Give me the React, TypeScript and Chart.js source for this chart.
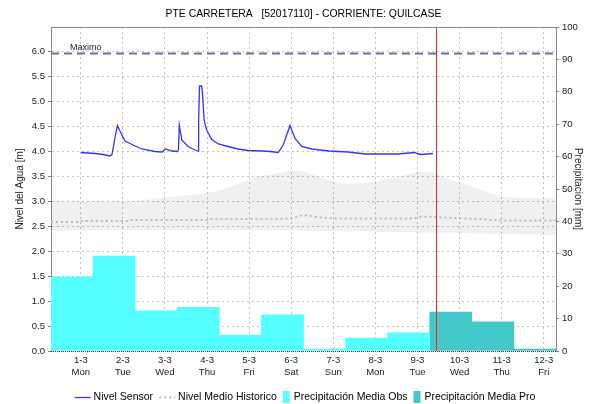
import React, { useEffect, useRef } from "react";
import { Chart, registerables } from "chart.js";

Chart.register(...registerables);

const FONT = '"Liberation Sans", Arial, sans-serif';

const TITLE = "PTE CARRETERA   [52017110] - CORRIENTE: QUILCASE";
const LEFT_TITLE = "Nivel del Agua [m]";
const RIGHT_TITLE = "Precipitacion [mm]";
const MAXIMO_LABEL = "Maximo";

// x axis: days counted from 1-3 00:00
const dateLabels = ["1-3", "2-3", "3-3", "4-3", "5-3", "6-3", "7-3", "8-3", "9-3", "10-3", "11-3", "12-3"];
const dayLabels = ["Mon", "Tue", "Wed", "Thu", "Fri", "Sat", "Sun", "Mon", "Tue", "Wed", "Thu", "Fri"];
const X_MIN = -17 / 24; // 28-2 07:00
const X_MAX = 11 + 7 / 24; // 12-3 07:00
const NOW_DAY = 8.43;
const MAXIMO = 5.95;

// Nivel Sensor [m]
const sensorDays = [
  0.0, 0.34, 0.53, 0.69, 0.74, 0.81, 0.87, 0.96, 1.05, 1.17, 1.29, 1.45, 1.76, 1.93, 2.02, 2.16, 2.29, 2.32, 2.34,
  2.4, 2.55, 2.71, 2.79, 2.8, 2.82, 2.87, 2.89, 2.93, 2.99, 3.11, 3.27, 3.5, 3.74, 3.97, 4.3, 4.5, 4.69, 4.81,
  4.97, 5.09, 5.25, 5.49, 5.69, 5.9, 6.35, 6.76, 7.11, 7.54, 7.94, 8.01, 8.1, 8.37,
];
const sensorLevels = [
  3.97, 3.95, 3.93, 3.9, 3.93, 4.25, 4.51, 4.35, 4.2, 4.15, 4.1, 4.04, 3.99, 3.98, 4.04, 4.0, 3.99, 4.02, 4.52,
  4.22, 4.09, 4.02, 4.0, 4.6, 5.3, 5.3, 5.16, 4.62, 4.42, 4.23, 4.14, 4.09, 4.04, 4.01, 4.0, 3.99, 3.97, 4.12,
  4.51, 4.25, 4.09, 4.04, 4.02, 4.0, 3.98, 3.94, 3.94, 3.94, 3.97, 3.94, 3.93, 3.95,
];

// Historical band [m]
const bandDays = [
  -0.708, 1.36, 1.99, 2.79, 3.18, 3.66, 4.21, 4.59, 5.05, 5.28, 5.61, 6.23, 6.8, 7.35, 8.23, 8.77, 9.42, 10.03,
  11.15, 11.29,
];
const bandTop = [
  3.01, 3.01, 3.07, 3.14, 3.19, 3.32, 3.49, 3.54, 3.61, 3.59, 3.5, 3.35, 3.37, 3.45, 3.59, 3.43, 3.25, 3.09, 3.05,
  3.05,
];
const bandBottom = [
  2.4, 2.42, 2.42, 2.42, 2.42, 2.42, 2.41, 2.41, 2.41, 2.4, 2.4, 2.39, 2.39, 2.38, 2.37, 2.37, 2.35, 2.34, 2.32,
  2.32,
];

// Nivel Medio Historico [m]
const medioDays = [-0.708, -0.05, 0.0, 1.1, 1.15, 3.0, 3.1, 4.2, 5.0, 5.28, 5.6, 6.0, 7.9, 8.1, 8.6, 9.5, 10.0, 11.29];
const medioLevels = [2.58, 2.58, 2.6, 2.6, 2.62, 2.62, 2.64, 2.64, 2.65, 2.72, 2.68, 2.65, 2.65, 2.69, 2.67, 2.64, 2.61, 2.61];

// Daily precipitation [mm] (07:00 - 07:00)
const precipObs = [22.9, 29.3, 12.4, 13.5, 4.9, 11.2, 0.6, 4.0, 5.6, null, null, null];
const precipPro = [null, null, null, null, null, null, null, null, null, 12.0, 9.0, 0.6];

const pts = (xs: number[], ys: (number | null)[]) => xs.map((x, i) => ({ x, y: ys[i] }));
const barCenter = (i: number) => X_MIN + i + 0.5;

const decorPlugin = {
  id: "decor",
  afterDatasetsDraw(chart: any) {
    const { ctx, chartArea: ca, scales } = chart;
    ctx.save();
    ctx.lineWidth = 1;
    // top border
    ctx.strokeStyle = "#8a8a8a";
    ctx.beginPath();
    ctx.moveTo(ca.left, Math.floor(ca.top) + 0.5);
    ctx.lineTo(ca.right, Math.floor(ca.top) + 0.5);
    ctx.stroke();
    // dotted bottom axis
    ctx.setLineDash([1, 1]);
    ctx.strokeStyle = "#404040";
    ctx.beginPath();
    ctx.moveTo(ca.left, Math.round(ca.bottom) + 0.5);
    ctx.lineTo(ca.right, Math.round(ca.bottom) + 0.5);
    ctx.stroke();
    // now line
    ctx.setLineDash([]);
    const nx = Math.round(scales.x.getPixelForValue(NOW_DAY)) + 0.5;
    ctx.strokeStyle = "#ff2020";
    ctx.beginPath();
    ctx.moveTo(nx, ca.top);
    ctx.lineTo(nx, ca.bottom);
    ctx.stroke();
    // Maximo label
    ctx.fillStyle = "#222";
    ctx.font = "9px " + FONT;
    ctx.textAlign = "left";
    ctx.textBaseline = "bottom";
    ctx.fillText(MAXIMO_LABEL, ca.left + 19, scales.y.getPixelForValue(MAXIMO) - 1);
    ctx.restore();
  },
  afterDraw(chart: any) {
    const { ctx, chartArea: ca } = chart;
    ctx.save();
    // title
    ctx.fillStyle = "#000";
    ctx.font = "10.4px " + FONT;
    ctx.textAlign = "center";
    ctx.textBaseline = "middle";
    ctx.fillText(TITLE, (ca.left + ca.right) / 2, 14.5);
    // legend
    const items = chart.data.datasets.filter((d: any) => d.label && !d.label.startsWith("_"));
    ctx.font = "10.5px " + FONT;
    const lineW = 16;
    const boxW = 7;
    const symGap = 3;
    const itemGap = 6;
    const widths = items.map((d: any) => (d.type === "line" ? lineW : boxW + 1) + symGap + ctx.measureText(d.label).width);
    const total = widths.reduce((a: number, b: number) => a + b, 0) + itemGap * (items.length - 1);
    let x = 305 - total / 2;
    const y = 397;
    items.forEach((d: any, i: number) => {
      const start = x;
      if (d.type === "line") {
        ctx.strokeStyle = d.borderColor;
        ctx.lineWidth = d.borderDash ? 2 : 1.3;
        ctx.setLineDash(d.borderDash || []);
        ctx.beginPath();
        ctx.moveTo(x, y + 0.5);
        ctx.lineTo(x + lineW, y + 0.5);
        ctx.stroke();
        ctx.setLineDash([]);
        x += lineW + symGap;
      } else {
        ctx.fillStyle = d.backgroundColor;
        ctx.fillRect(x, y - 6, boxW, 12);
        x += boxW + 1 + symGap;
      }
      ctx.fillStyle = "#000";
      ctx.textAlign = "left";
      ctx.textBaseline = "middle";
      ctx.fillText(d.label, x, y);
      x = start + widths[i] + itemGap;
    });
    ctx.restore();
  },
};

export default function App() {
  const ref = useRef<HTMLCanvasElement | null>(null);

  useEffect(() => {
    if (!ref.current) return;
    Chart.defaults.font.family = FONT;
    const tickFont = { size: 9.5, family: FONT };
    const chart = new Chart(ref.current, {
      type: "bar",
      data: {
        datasets: [
          {
            type: "line",
            label: "Nivel Sensor",
            data: pts(sensorDays, sensorLevels),
            borderColor: "#3535ff",
            borderWidth: 1.3,
            pointRadius: 0,
            tension: 0,
            yAxisID: "y",
            xAxisID: "x",
          },
          {
            type: "line",
            label: "_maximo",
            data: [
              { x: X_MIN, y: MAXIMO },
              { x: X_MAX, y: MAXIMO },
            ],
            borderColor: "#6472a6",
            borderWidth: 2,
            borderDash: [8, 5],
            pointRadius: 0,
            yAxisID: "y",
            xAxisID: "x",
          },
          {
            type: "line",
            label: "Nivel Medio Historico",
            data: pts(medioDays, medioLevels),
            borderColor: "#bcbcbc",
            borderWidth: 2,
            borderDash: [2, 3],
            pointRadius: 0,
            tension: 0,
            yAxisID: "y",
            xAxisID: "x",
          },
          {
            type: "line",
            label: "_bandTop",
            data: pts(bandDays, bandTop),
            borderWidth: 0,
            borderColor: "rgba(0,0,0,0)",
            backgroundColor: "rgba(0,0,0,0.06)",
            fill: "+1",
            pointRadius: 0,
            tension: 0.3,
            yAxisID: "y",
            xAxisID: "x",
          },
          {
            type: "line",
            label: "_bandBottom",
            data: pts(bandDays, bandBottom),
            borderWidth: 0,
            borderColor: "rgba(0,0,0,0)",
            fill: false,
            pointRadius: 0,
            tension: 0.3,
            yAxisID: "y",
            xAxisID: "x",
          },
          {
            type: "bar",
            label: "Precipitación Media Obs",
            data: pts(dateLabels.map((_, i) => barCenter(i)), precipObs),
            backgroundColor: "#55ffff",
            borderWidth: 0,
            barPercentage: 1,
            categoryPercentage: 1,
            grouped: false,
            yAxisID: "y1",
            xAxisID: "x",
          },
          {
            type: "bar",
            label: "Precipitación Media Pro",
            data: pts(dateLabels.map((_, i) => barCenter(i)), precipPro),
            backgroundColor: "#42c8c8",
            borderWidth: 0,
            barPercentage: 1,
            categoryPercentage: 1,
            grouped: false,
            yAxisID: "y1",
            xAxisID: "x",
          },
        ] as any,
      },
      options: {
        animation: false,
        responsive: false,
        devicePixelRatio: 1,
        layout: { padding: { top: 27, left: 0, right: 0, bottom: 0 } },
        plugins: { legend: { display: false }, tooltip: { enabled: false }, title: { display: false } },
        scales: {
          x: {
            type: "linear",
            offset: false,
            min: X_MIN,
            max: X_MAX,
            afterBuildTicks: (s: any) => {
              s.ticks = dateLabels.map((_, i) => ({ value: i }));
            },
            afterFit: (s: any) => {
              s.height = 53;
            },
            ticks: {
              autoSkip: false,
              maxRotation: 0,
              padding: 4,
              color: "#222",
              font: tickFont,
              callback: (v: any) => {
                const i = Math.round(Number(v));
                return [dateLabels[i], dayLabels[i]];
              },
            },
            grid: { color: "#c4c4c4", offset: false, drawTicks: false, tickLength: 0 },
            border: { display: false, dash: [2, 3] },
          },
          y: {
            type: "linear",
            position: "left",
            min: 0,
            max: 6.48,
            afterFit: (s: any) => {
              s.width = 51;
            },
            ticks: {
              stepSize: 0.5,
              includeBounds: false,
              padding: 3,
              color: "#222",
              font: tickFont,
              callback: (v: any) => Number(v).toFixed(1),
            },
            grid: { color: "#c4c4c4", tickLength: 3, tickColor: "#808080", tickBorderDash: [] },
            border: { display: true, color: "#8a8a8a", dash: [2, 3] },
            title: {
              display: true,
              text: LEFT_TITLE,
              color: "#222",
              font: { size: 10, family: FONT },
              padding: { top: 14, bottom: 0 },
            },
          },
          y1: {
            type: "linear",
            position: "right",
            min: 0,
            max: 100,
            afterFit: (s: any) => {
              s.width = 34;
            },
            ticks: {
              stepSize: 10,
              padding: 3,
              color: "#222",
              font: tickFont,
            },
            grid: { drawOnChartArea: false, tickLength: 3, tickColor: "#808080" },
            border: { display: true, color: "#8a8a8a" },
            title: {
              display: true,
              text: RIGHT_TITLE,
              color: "#222",
              font: { size: 10, family: FONT },
              padding: { top: 6, bottom: 0 },
            },
          },
        },
      } as any,
      plugins: [decorPlugin],
    });
    return () => chart.destroy();
  }, []);

  return (
    <div style={{ position: "absolute", left: 0, top: 0, width: 590, height: 404, background: "#fff" }}>
      <canvas ref={ref} width={590} height={404} style={{ display: "block" }} />
    </div>
  );
}
